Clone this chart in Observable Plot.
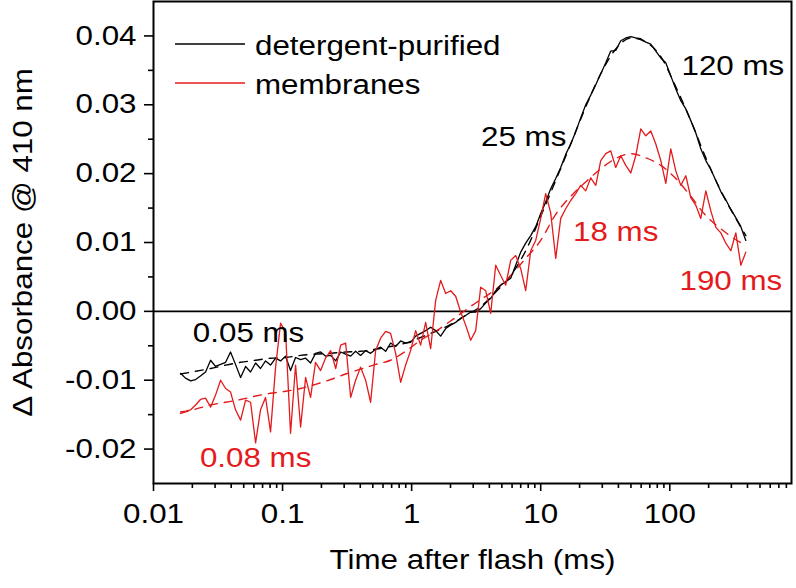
<!DOCTYPE html>
<html><head><meta charset="utf-8">
<script src="https://cdn.jsdelivr.net/npm/d3@7"></script>
<script src="https://cdn.jsdelivr.net/npm/@observablehq/plot@0.6"></script>
<style>
html,body{margin:0;padding:0;background:#fff;}
#chart{position:relative;width:796px;height:588px;}
</style></head><body><div id="chart"></div>
<script>
// Sampling times (ms)
const time = [
 0.0162,0.0177,0.0194,0.0212,0.0231,0.0253,0.0277,0.0302,0.0331,0.0362,
 0.0395,0.0432,0.0473,0.0517,0.0565,0.0618,0.0675,0.0738,0.0807,0.0883,
 0.0965,0.1055,0.1153,0.1261,0.1379,0.1508,0.1648,0.180,0.197,0.215,
 0.236,0.258,0.282,0.308,0.337,0.368,0.402,0.440,0.481,0.526,
 0.575,0.629,0.687,0.752,0.822,0.898,0.982,1.074,1.174,1.284,
 1.404,1.535,1.678,1.835,2.006,2.193,2.398,2.622,2.867,3.134,
 3.427,3.747,4.097,4.480,4.897,5.355,5.854,6.401,6.998,7.651,
 8.366,9.147,10.00,10.93,11.95,13.07,14.29,15.62,17.08,18.67,
 20.42,22.33,24.41,26.69,29.18,31.91,34.88,38.14,41.70,45.60,
 49.85,54.51,59.60,65.16,71.25,77.90,85.17,93.11,101.8,111.3,
 121.7,133.1,145.5,159.1,173.9,190.2,207.9,227.3,248.5,271.8,
 297.1,324.8,355.2,388.3
];
// detergent-purified (black) trace
const detergent = [
 -0.0090,-0.0097,-0.0101,-0.0099,-0.0094,-0.0088,-0.0071,-0.0080,-0.0077,-0.0074,
 -0.0059,-0.0077,-0.0096,-0.0080,-0.0088,-0.0075,-0.0083,-0.0072,-0.0078,-0.0068,
 -0.0072,-0.0065,-0.0086,-0.0067,-0.0070,-0.0068,-0.0075,-0.0061,-0.0059,-0.0065,
 -0.0064,-0.0072,-0.0059,-0.0062,-0.0065,-0.0058,-0.0064,-0.0057,-0.0061,-0.0055,
 -0.0052,-0.0058,-0.0046,-0.0051,-0.0043,-0.0046,-0.0045,-0.0036,-0.0032,-0.0028,
 -0.0023,-0.0028,-0.0036,-0.0025,-0.0020,-0.0016,-0.0010,-0.0006,-0.0001,-0.0001,
 0.0004,0.0012,0.0019,0.0030,0.0038,0.0043,0.0048,0.0067,0.0086,0.0099,
 0.0110,0.0123,0.0142,0.0159,0.0178,0.0193,0.0209,0.0228,0.0243,0.0261,
 0.0281,0.0300,0.0314,0.0329,0.0345,0.0361,0.0378,0.0379,0.0393,0.0397,
 0.0399,0.0397,0.0396,0.0391,0.0388,0.0378,0.0368,0.0361,0.0342,0.0323,
 0.0306,0.0294,0.0277,0.0259,0.0236,0.0219,0.0206,0.0190,0.0174,0.0162,
 0.0148,0.0136,0.0123,0.0103
];
// membranes (red) trace
const membranes = [
 -0.0146,-0.0145,-0.0143,-0.0136,-0.0128,-0.0126,-0.0139,-0.0122,-0.0100,-0.0112,
 -0.0117,-0.0143,-0.0158,-0.0129,-0.0132,-0.0191,-0.0143,-0.0125,-0.0175,-0.0081,
 -0.0017,-0.0030,-0.0177,-0.0078,-0.0168,-0.0096,-0.0125,-0.0074,-0.0086,-0.0068,
 -0.0057,-0.0083,-0.0049,-0.0046,-0.0125,-0.0100,-0.0081,-0.0100,-0.0132,-0.0057,
 -0.0039,-0.0029,-0.0032,-0.0061,-0.0103,-0.0078,-0.0057,-0.0028,-0.0049,-0.0016,
 -0.0054,0.0016,0.0045,0.0026,0.0030,0.0022,-0.0001,-0.0020,-0.0042,-0.0028,
 0.0035,0.0030,-0.0003,0.0067,0.0052,0.0038,0.0074,0.0081,0.0062,0.0030,
 0.0088,0.0103,0.0135,0.0171,0.0143,0.0077,0.0135,0.0149,0.0161,0.0171,
 0.0183,0.0175,0.0194,0.0183,0.0219,0.0229,0.0233,0.0209,0.0226,0.0212,
 0.0201,0.0226,0.0265,0.0255,0.0262,0.0243,0.0219,0.0186,0.0236,0.0204,
 0.0183,0.0197,0.0165,0.0154,0.0135,0.0175,0.0146,0.0122,0.0114,0.0099,
 0.0088,0.0114,0.0067,0.0086
];
// fitted curves (dashed)
const fitTime = [
 0.0162,0.0212,0.0277,0.0362,0.0473,0.0618,0.0807,0.1055,0.1379,0.180,
 0.236,0.308,0.402,0.526,0.687,0.898,1.174,1.535,2.006,2.622,
 3.427,4.480,5.854,7.651,10.00,13.07,17.08,22.33,29.18,38.14,
 49.85,65.16,85.17,111.3,145.5,190.2,248.5,324.8,388.3
];
const detergentFit = [
 -0.0091,-0.0087,-0.0083,-0.0078,-0.0074,-0.0071,-0.0068,-0.0067,-0.0064,-0.0062,
 -0.0061,-0.0059,-0.0058,-0.0055,-0.0051,-0.0046,-0.0038,-0.0029,-0.0019,-0.0006,
 0.0007,0.0028,0.0052,0.0088,0.0138,0.0190,0.0243,0.0297,0.0345,0.0381,
 0.0397,0.0391,0.0370,0.0326,0.0277,0.0223,0.0175,0.0135,0.0110
];
const membranesFit = [
 -0.0148,-0.0142,-0.0136,-0.0132,-0.0128,-0.0123,-0.0119,-0.0116,-0.0112,-0.0106,
 -0.0099,-0.0091,-0.0084,-0.0077,-0.0071,-0.0058,-0.0042,-0.0029,-0.0014,0.0002,
 0.0017,0.0032,0.0052,0.0077,0.0103,0.0141,0.0167,0.0188,0.0207,0.0222,
 0.0229,0.0223,0.0212,0.0193,0.0167,0.0139,0.0120,0.0104,0.0096
];
const seriesNames = ["detergent-purified", "membranes"];
const annLabels = ["0.05 ms", "0.08 ms", "25 ms", "120 ms", "18 ms", "190 ms"];
const annTime   = [0.0545, 0.0618, 7.38, 308, 38.1, 297];
const annValue  = [-0.0032, -0.0214, 0.0253, 0.0356, 0.0115, 0.0043];
const annSeries = [0, 1, 0, 0, 1, 1];
const xMajorTicks = [0.01, 0.1, 1, 10, 100];
const yMajorTicks = [-0.02, -0.01, 0, 0.01, 0.02, 0.03, 0.04];
const yMinorTicks = [-0.015, -0.005, 0.005, 0.015, 0.025, 0.035];
const xLabel = "Time after flash (ms)";
const yLabel = "\u0394 Absorbance @ 410 nm";

const RED = "#e41a1c";
const colors = ["black", RED];
const xMinorTicks = [];
for (const d of [0.01, 0.1, 1, 10, 100]) for (let m = 2; m <= 9; m++) { const v = +(d * m).toPrecision(3); if (v < 877) xMinorTicks.push(v); }

const rows = (ts, vs) => ts.map((t, i) => ({t, v: vs[i]}));
const ann = annLabels.map((l, i) => ({label: l, t: annTime[i], v: annValue[i], c: colors[annSeries[i]]}));

const FONT = "'Liberation Sans', Arial, Helvetica, sans-serif";
const chart = Plot.plot({
  width: 796, height: 588,
  marginLeft: 153, marginRight: 5, marginTop: 1, marginBottom: 105,
  x: {type: "log", domain: [0.01, 877]},
  y: {domain: [-0.025, 0.045]},
  color: {type: "identity"},
  style: {fontFamily: FONT, fontSize: "27px", color: "black", background: "white", overflow: "visible"},
  marks: [
    Plot.ruleY([0], {stroke: "black", strokeWidth: 1.6}),
    Plot.line(rows(fitTime, detergentFit), {x: "t", y: "v", stroke: "black", strokeWidth: 1.4, strokeDasharray: "8,7", curve: "monotone-x"}),
    Plot.line(rows(fitTime, membranesFit), {x: "t", y: "v", stroke: RED, strokeWidth: 1.4, strokeDasharray: "8,7", curve: "monotone-x"}),
    Plot.line(rows(time, detergent), {x: "t", y: "v", stroke: "black", strokeWidth: 1.3}),
    Plot.line(rows(time, membranes), {x: "t", y: "v", stroke: RED, strokeWidth: 1.3}),
    Plot.axisX({ticks: xMajorTicks, tickSize: 8, tickPadding: 12, tickFormat: d => String(d), label: null, fontSize: 27, strokeWidth: 1.6}),
    Plot.axisX({ticks: xMinorTicks, tickSize: 5, tickFormat: () => "", label: null, strokeWidth: 1.6}),
    Plot.axisY({ticks: yMajorTicks, tickSize: 9, tickPadding: 8, tickFormat: d => d.toFixed(2), label: null, fontSize: 27, strokeWidth: 1.6}),
    Plot.axisY({ticks: yMinorTicks, tickSize: 5, tickFormat: () => "", label: null, strokeWidth: 1.6}),
    Plot.frame({stroke: "black", strokeWidth: 2}),
    Plot.text(ann, {x: "t", y: "v", text: "label", fill: "c", fontSize: 27}),
    Plot.text([xLabel], {frameAnchor: "bottom", dy: 85, text: d => d, fontSize: 27, fill: "black", textAnchor: "middle"}),
    Plot.text([yLabel], {frameAnchor: "left", dx: -130, rotate: -90, text: d => d, fontSize: 27, fill: "black", textAnchor: "middle"})
  ]
});
document.getElementById("chart").appendChild(chart);

// legend inside the plot area
const svg = d3.select(chart);
const leg = svg.append("g").attr("font-family", FONT).attr("font-size", 27).attr("text-anchor", "start");
seriesNames.forEach((name, i) => {
  const y = 44 + i * 39;
  leg.append("line").attr("x1", 175).attr("x2", 245).attr("y1", y).attr("y2", y)
    .attr("stroke", colors[i]).attr("stroke-width", 1.4);
  leg.append("text").attr("x", 255).attr("y", y + 11).attr("fill", "black").attr("text-anchor", "start").text(name);
});

// widen glyphs to match the reference's wider lettering
chart.querySelectorAll("text").forEach(t => {
  const L = t.getComputedTextLength();
  if (L > 0) { t.setAttribute("textLength", (L * 1.16).toFixed(1)); t.setAttribute("lengthAdjust", "spacingAndGlyphs"); }
});
</script></body></html>
